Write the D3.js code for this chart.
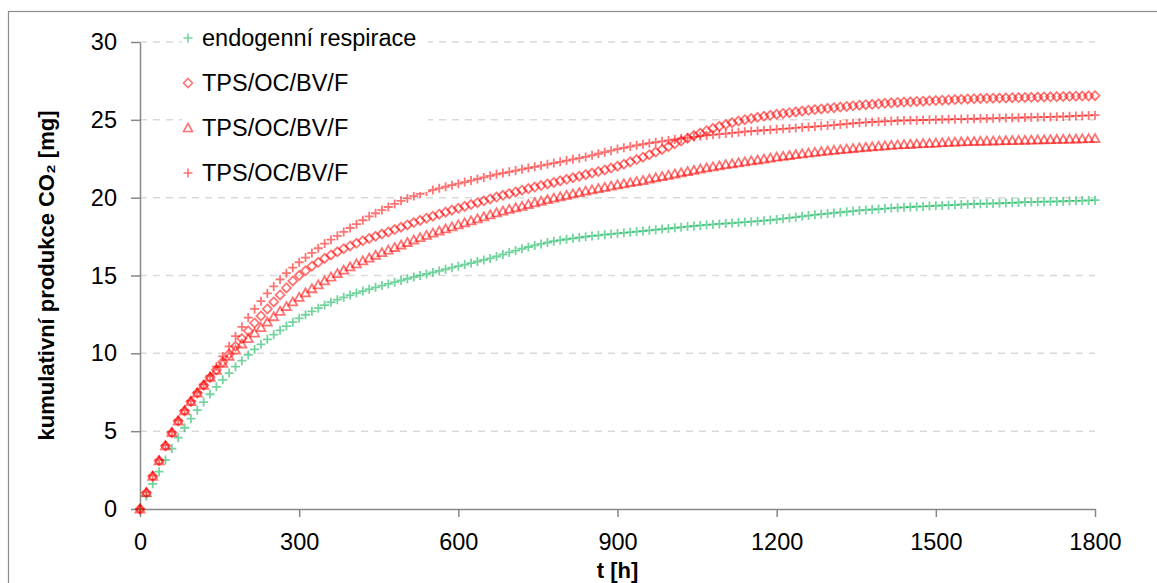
<!DOCTYPE html>
<html lang="cs">
<head>
<meta charset="UTF-8">
<title>kumulativní produkce CO2</title>
<script src="https://d3js.org/d3.v7.min.js"></script>
<style>
  body { margin: 0; background: #fff; font-family: "Liberation Sans", Arial, sans-serif; }
  .axis text { font-size: 23.5px; fill: #000; font-family: "Liberation Sans", Arial, sans-serif; }
  .axis path, .axis line { stroke: #878787; stroke-width: 1.5px; }
  .grid line { stroke: #d9d9d9; stroke-width: 1.5px; stroke-dasharray: 7,6; }
  .title { font-size: 22px; font-weight: bold; fill: #000; }
  .legend text { font-size: 23.5px; fill: #000; }
</style>
</head>
<body>
<script>
  // measurement every 12 h, 0..1800 h
  var hours = d3.range(0, 1801, 12);

  var endo = [0, 0.82, 1.62, 2.4, 3.15, 3.88, 4.58, 5.22, 5.8, 6.35,
    6.87, 7.37, 7.85, 8.3, 8.73, 9.14, 9.53, 9.9, 10.25, 10.58,
    10.9, 11.2, 11.48, 11.75, 12.0, 12.25, 12.48, 12.7, 12.9, 13.1,
    13.28, 13.45, 13.6, 13.74, 13.87, 14.0, 14.12, 14.24, 14.35, 14.46,
    14.57, 14.68, 14.79, 14.9, 15.0, 15.1, 15.2, 15.3, 15.4, 15.5,
    15.6, 15.7, 15.8, 15.9, 16.0, 16.1, 16.22, 16.35, 16.48, 16.6,
    16.72, 16.83, 16.93, 17.03, 17.12, 17.2, 17.27, 17.33, 17.39, 17.44,
    17.49, 17.54, 17.58, 17.62, 17.66, 17.7, 17.74, 17.78, 17.82, 17.86,
    17.9, 17.94, 17.98, 18.02, 18.06, 18.1, 18.14, 18.18, 18.22, 18.25,
    18.28, 18.31, 18.34, 18.37, 18.4, 18.43, 18.46, 18.49, 18.52, 18.56,
    18.6, 18.65, 18.7, 18.75, 18.8, 18.85, 18.9, 18.94, 18.98, 19.02,
    19.06, 19.1, 19.14, 19.18, 19.21, 19.24, 19.27, 19.3, 19.33, 19.36,
    19.38, 19.4, 19.42, 19.44, 19.46, 19.48, 19.5, 19.52, 19.54, 19.56,
    19.58, 19.6, 19.61, 19.62, 19.63, 19.64, 19.65, 19.67, 19.69, 19.71,
    19.72, 19.73, 19.74, 19.75, 19.76, 19.77, 19.79, 19.8, 19.81, 19.82,
    19.84];

  var tpsDiamond = [0, 1.05, 2.1, 3.1, 4.05, 4.9, 5.65, 6.3, 6.9, 7.45,
    7.95, 8.45, 8.95, 9.45, 9.95, 10.45, 10.95, 11.45, 11.95, 12.4,
    12.85, 13.3, 13.75, 14.2, 14.65, 15.0, 15.3, 15.6, 15.85, 16.1,
    16.32, 16.52, 16.72, 16.9, 17.07, 17.23, 17.38, 17.52, 17.66, 17.8,
    17.95, 18.1, 18.25, 18.4, 18.54, 18.68, 18.81, 18.94, 19.07, 19.2,
    19.32, 19.44, 19.56, 19.68, 19.8, 19.92, 20.04, 20.15, 20.26, 20.37,
    20.48, 20.58, 20.68, 20.78, 20.88, 20.98, 21.08, 21.18, 21.28, 21.38,
    21.48, 21.58, 21.68, 21.78, 21.9, 22.02, 22.15, 22.3, 22.45, 22.6,
    22.76, 22.93, 23.1, 23.28, 23.46, 23.64, 23.82, 24.0, 24.15, 24.3,
    24.45, 24.58, 24.7, 24.82, 24.92, 25.01, 25.09, 25.16, 25.23, 25.29,
    25.35, 25.41, 25.46, 25.51, 25.56, 25.61, 25.66, 25.7, 25.74, 25.78,
    25.82, 25.86, 25.9, 25.94, 25.97, 26.0, 26.03, 26.06, 26.09, 26.12,
    26.14, 26.16, 26.18, 26.2, 26.22, 26.24, 26.26, 26.28, 26.3, 26.32,
    26.34, 26.36, 26.37, 26.38, 26.39, 26.4, 26.41, 26.42, 26.43, 26.44,
    26.45, 26.46, 26.47, 26.48, 26.49, 26.5, 26.51, 26.52, 26.53, 26.54,
    26.55];

  var tpsTriangle = [0, 1.05, 2.1, 3.1, 4.05, 4.9, 5.65, 6.3, 6.9, 7.45,
    7.95, 8.45, 8.9, 9.35, 9.8, 10.2, 10.6, 10.95, 11.3, 11.65,
    12.0, 12.35, 12.7, 13.0, 13.3, 13.6, 13.88, 14.15, 14.4, 14.65,
    14.9, 15.12, 15.34, 15.55, 15.75, 15.94, 16.12, 16.3, 16.47, 16.63,
    16.8, 16.96, 17.12, 17.28, 17.43, 17.58, 17.72, 17.86, 17.99, 18.12,
    18.25, 18.38, 18.51, 18.64, 18.77, 18.9, 19.02, 19.14, 19.25, 19.35,
    19.45, 19.56, 19.67, 19.77, 19.87, 19.97, 20.06, 20.15, 20.24, 20.33,
    20.42, 20.5, 20.58, 20.66, 20.74, 20.82, 20.89, 20.96, 21.03, 21.1,
    21.2, 21.28, 21.36, 21.44, 21.52, 21.6, 21.68, 21.76, 21.84, 21.91,
    21.98, 22.05, 22.12, 22.18, 22.24, 22.3, 22.36, 22.42, 22.48, 22.54,
    22.6, 22.66, 22.71, 22.76, 22.81, 22.86, 22.91, 22.96, 23.0, 23.04,
    23.08, 23.12, 23.16, 23.2, 23.24, 23.27, 23.3, 23.33, 23.36, 23.39,
    23.41, 23.43, 23.45, 23.47, 23.49, 23.51, 23.53, 23.55, 23.57, 23.58,
    23.6, 23.61, 23.62, 23.63, 23.64, 23.65, 23.66, 23.67, 23.68, 23.69,
    23.7, 23.71, 23.72, 23.73, 23.74, 23.75, 23.76, 23.77, 23.78, 23.79,
    23.8];

  var tpsPlus = [0, 1.1, 2.15, 3.15, 4.1, 4.95, 5.7, 6.35, 6.95, 7.5,
    8.0, 8.55, 9.15, 9.8, 10.45, 11.1, 11.7, 12.3, 12.85, 13.35,
    13.85, 14.3, 14.75, 15.15, 15.5, 15.85, 16.15, 16.45, 16.75, 17.05,
    17.3, 17.55, 17.8, 18.05, 18.3, 18.55, 18.8, 19.0, 19.2, 19.4,
    19.6, 19.8, 19.95, 20.1, 20.25, 20.4, 20.5, 20.6, 20.7, 20.8,
    20.9, 21.0, 21.1, 21.2, 21.3, 21.4, 21.5, 21.58, 21.66, 21.74,
    21.82, 21.9, 21.98, 22.06, 22.14, 22.22, 22.3, 22.38, 22.46, 22.54,
    22.62, 22.72, 22.82, 22.92, 23.02, 23.12, 23.2, 23.28, 23.36, 23.43,
    23.5, 23.56, 23.62, 23.68, 23.74, 23.8, 23.85, 23.9, 23.95, 24.0,
    24.04, 24.08, 24.12, 24.16, 24.2, 24.24, 24.27, 24.3, 24.33, 24.36,
    24.39, 24.42, 24.45, 24.48, 24.51, 24.54, 24.57, 24.6, 24.63, 24.66,
    24.7, 24.74, 24.78, 24.81, 24.84, 24.86, 24.88, 24.9, 24.92, 24.94,
    24.96, 24.97, 24.98, 24.99, 25.0, 25.01, 25.02, 25.03, 25.04, 25.05,
    25.06, 25.07, 25.08, 25.09, 25.1, 25.11, 25.12, 25.13, 25.14, 25.15,
    25.16, 25.17, 25.18, 25.19, 25.2, 25.21, 25.23, 25.25, 25.27, 25.28,
    25.3];

  var seriesNames = ['endogenní respirace', 'TPS/OC/BV/F', 'TPS/OC/BV/F', 'TPS/OC/BV/F'];
  var xTicks = [0, 300, 600, 900, 1200, 1500, 1800];
  var yTicks = [0, 5, 10, 15, 20, 25, 30];

  var green = '#00b050', red = '#ff0000';
  var symbols = {
    plus: 'M-4.5,0H4.5M0,-4.5V4.5',
    diamond: 'M0,-4.5L4.5,0L0,4.5L-4.5,0Z',
    triangle: 'M0,-4.5L4.5,3.5L-4.5,3.5Z'
  };

  var series = [
    {name: seriesNames[0], values: endo, color: green, sym: 'plus'},
    {name: seriesNames[1], values: tpsDiamond, color: red, sym: 'diamond'},
    {name: seriesNames[2], values: tpsTriangle, color: red, sym: 'triangle'},
    {name: seriesNames[3], values: tpsPlus, color: red, sym: 'plus'}
  ];

  var W = 1157, H = 583;
  var svg = d3.select('body').append('svg')
    .attr('width', W).attr('height', H);

  // outer chart frame (runs past the right and bottom edge)
  svg.append('rect')
    .attr('x', 8.5).attr('y', 11.5)
    .attr('width', 1170).attr('height', 600)
    .attr('fill', '#fff').attr('stroke', '#8c8c8c').attr('stroke-width', 1.2);

  var x = d3.scaleLinear().domain([0, 1800]).range([140, 1095]);
  var y = d3.scaleLinear().domain([0, 30]).range([509, 42]);

  // dashed gridlines
  svg.append('g').attr('class', 'grid')
    .selectAll('line')
    .data(yTicks.filter(function(d){ return d > 0; }))
    .enter().append('line')
    .attr('x1', 140).attr('x2', 1095)
    .attr('y1', function(d){ return y(d); })
    .attr('y2', function(d){ return y(d); });

  svg.append('g').attr('class', 'x axis')
    .attr('transform', 'translate(0,' + y(0) + ')')
    .call(d3.axisBottom(x).tickValues(xTicks).tickFormat(d3.format('d'))
      .tickSize(8).tickSizeOuter(0).tickPadding(16));

  svg.append('g').attr('class', 'y axis')
    .attr('transform', 'translate(' + x(0) + ',0)')
    .call(d3.axisLeft(y).tickValues(yTicks).tickFormat(d3.format('d'))
      .tickSize(9).tickSizeOuter(0).tickPadding(14));

  // markers
  series.forEach(function(s){
    svg.append('g')
      .selectAll('path')
      .data(s.values)
      .enter().append('path')
      .attr('d', symbols[s.sym])
      .attr('transform', function(d, i){ return 'translate(' + x(hours[i]) + ',' + y(d) + ')'; })
      .attr('fill', 'none')
      .attr('stroke', s.color)
      .attr('stroke-opacity', 0.55)
      .attr('stroke-width', 1.8);
  });

  // axis titles
  svg.append('text')
    .attr('class', 'title')
    .attr('transform', 'translate(54,' + ((y(0) + y(30)) / 2) + ') rotate(-90)')
    .attr('text-anchor', 'middle')
    .text('kumulativní produkce CO₂ [mg]');

  svg.append('text')
    .attr('class', 'title')
    .attr('x', (x(0) + x(1800)) / 2)
    .attr('y', 578)
    .attr('text-anchor', 'middle')
    .text('t [h]');

  // legend
  var legend = svg.append('g').attr('class', 'legend');
  legend.append('rect')
    .attr('x', 182).attr('y', 20)
    .attr('width', 246).attr('height', 172)
    .attr('fill', '#fff');

  var item = legend.selectAll('g.item')
    .data(series)
    .enter().append('g')
    .attr('class', 'item')
    .attr('transform', function(d, i){ return 'translate(188,' + (38 + i * 45) + ')'; });

  item.append('path')
    .attr('d', function(d){ return symbols[d.sym]; })
    .attr('fill', 'none')
    .attr('stroke', function(d){ return d.color; })
    .attr('stroke-opacity', 0.55)
    .attr('stroke-width', 1.6);

  item.append('text')
    .attr('x', 14)
    .attr('dy', '0.35em')
    .text(function(d){ return d.name; });
</script>
</body>
</html>
